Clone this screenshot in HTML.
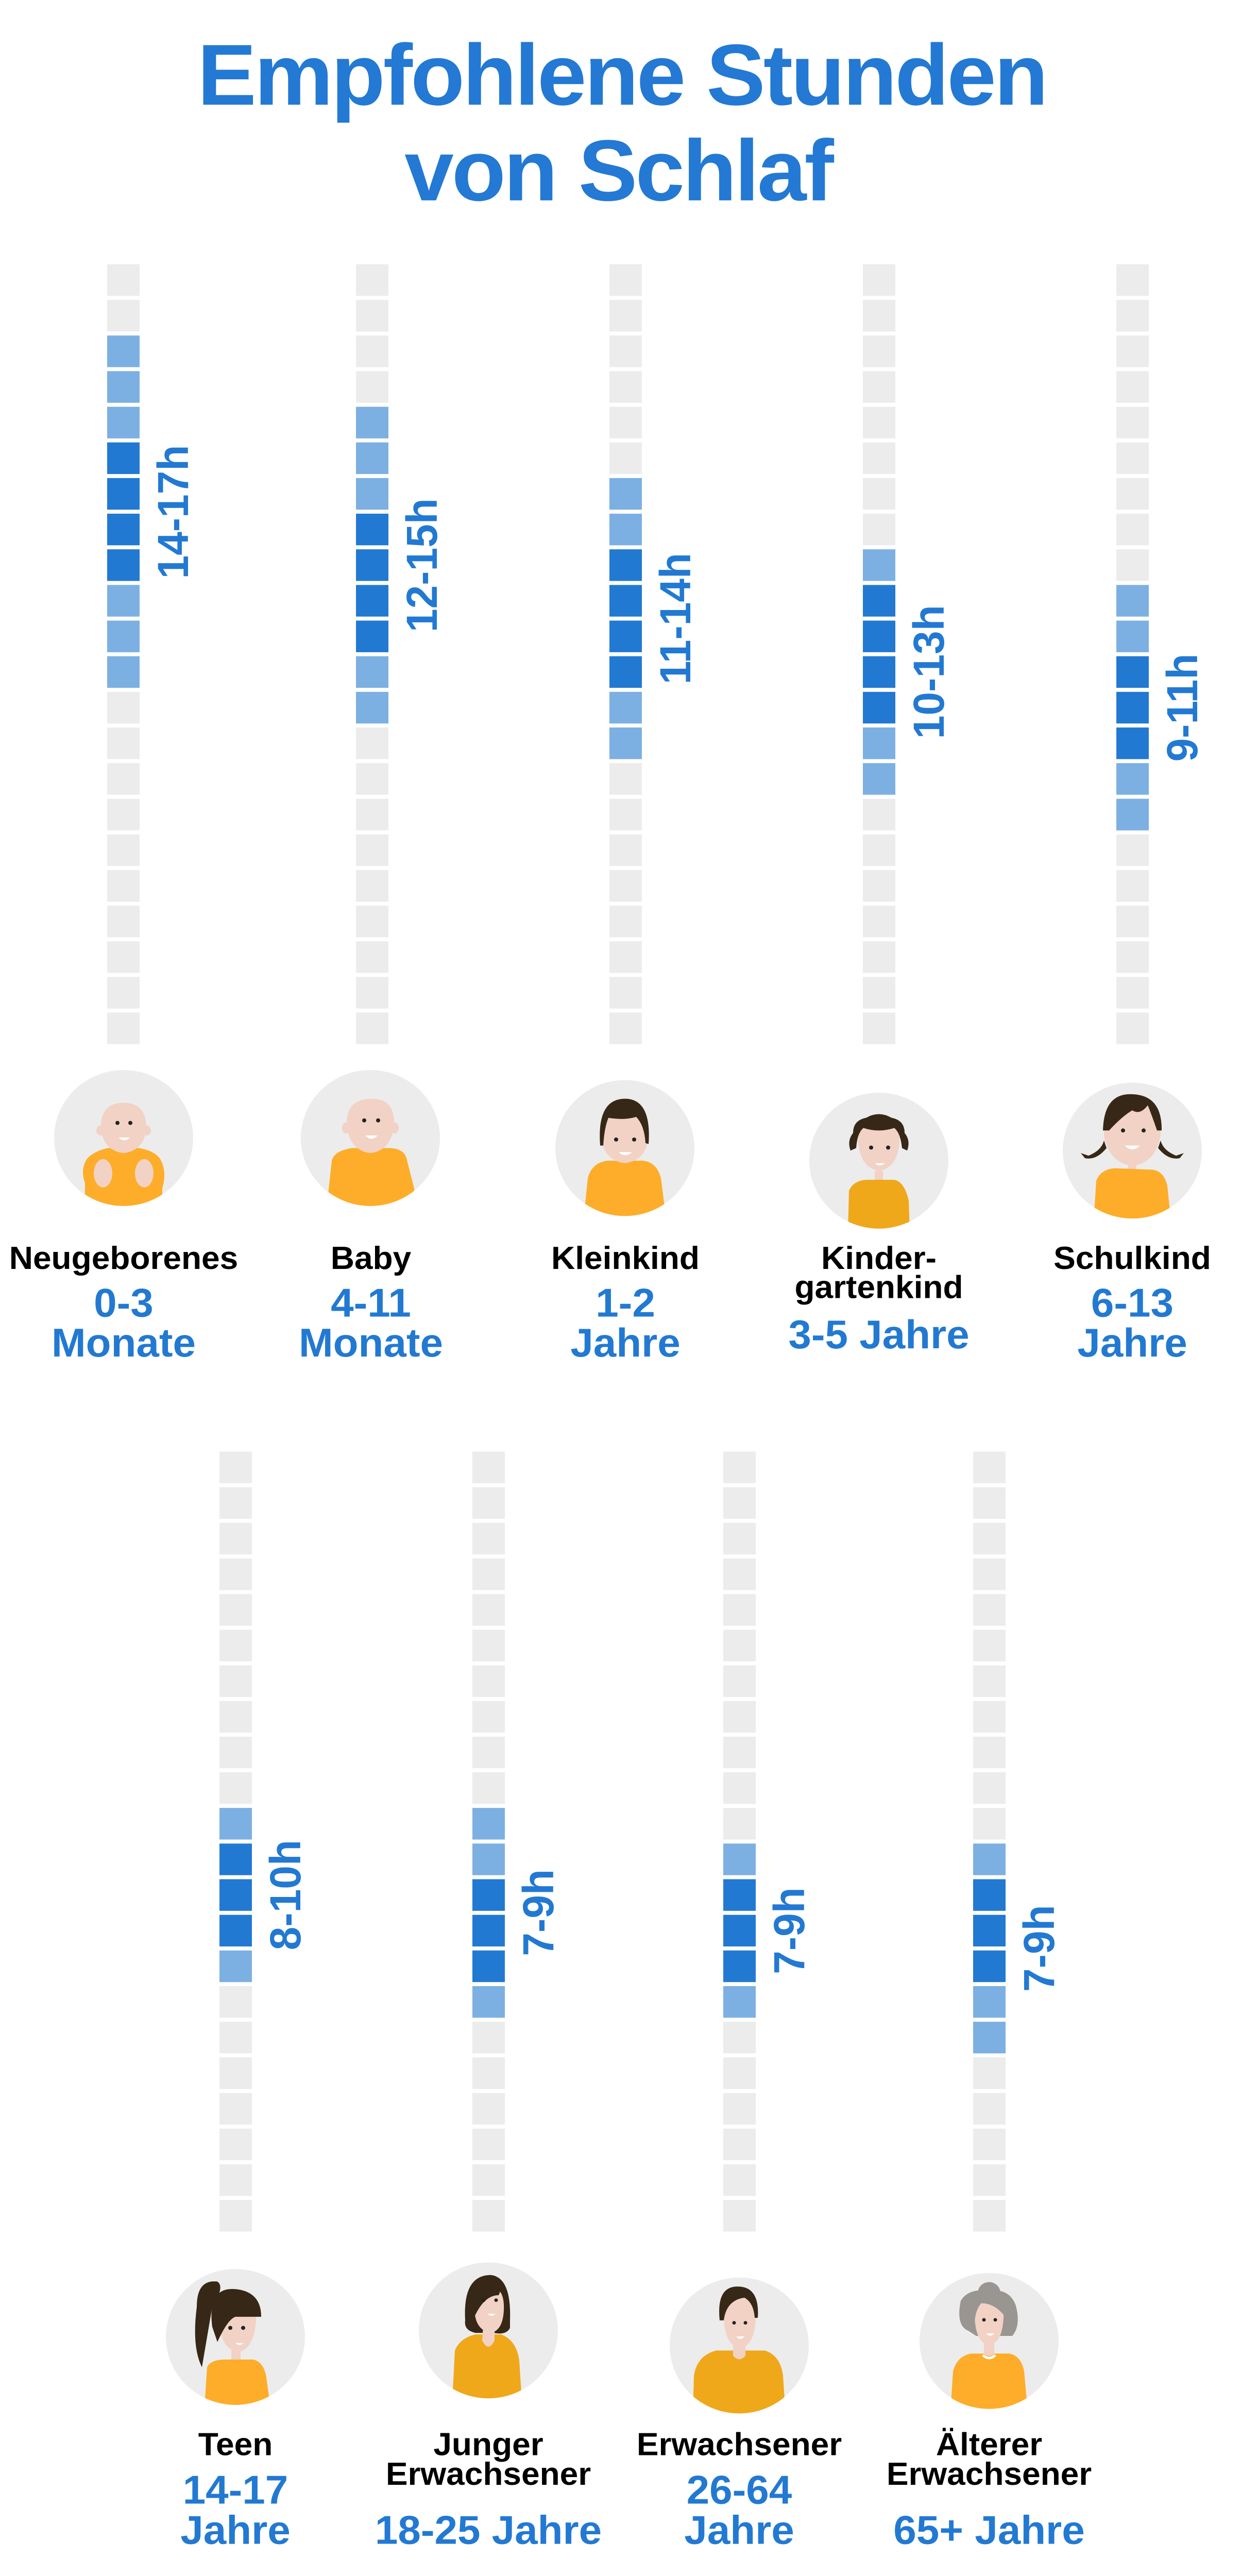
<!DOCTYPE html>
<html><head><meta charset="utf-8">
<style>
html,body{margin:0;padding:0;background:#fff;width:100%;height:100%;overflow:hidden;}
svg{display:block;position:fixed;left:0;top:0;width:100vw;height:100vh;}
text{font-family:"Liberation Sans",Arial,sans-serif;font-weight:bold;}
</style></head>
<body>
<svg viewBox="0 0 2409 5118" preserveAspectRatio="none" xmlns="http://www.w3.org/2000/svg">
<defs>
<pattern id="p1" x="0" y="525" width="10" height="70.8" patternUnits="userSpaceOnUse"><rect x="0" y="0" width="10" height="62.8" fill="#ececec"/></pattern>
<pattern id="p2" x="0" y="2884" width="10" height="70.8" patternUnits="userSpaceOnUse"><rect x="0" y="0" width="10" height="62.8" fill="#ececec"/></pattern>
<clipPath id="cc" clipPathUnits="userSpaceOnUse"><circle cx="0" cy="0" r="135"/></clipPath>
</defs>
<rect width="2409" height="5118" fill="#fff"/>

<text x="1207" y="208" font-size="172" fill="#2379d3" text-anchor="middle" letter-spacing="-4">Empfohlene Stunden</text>
<text x="1200" y="398" font-size="172" fill="#2379d3" text-anchor="middle" letter-spacing="-4">von Schlaf</text>

<g fill="url(#p1)">
<rect x="208" y="525" width="63" height="1550"/>
<rect x="691" y="525" width="63" height="1550"/>
<rect x="1183" y="525" width="63" height="1550"/>
<rect x="1675" y="525" width="63" height="1550"/>
<rect x="2167" y="525" width="63" height="1550"/>
</g>
<g fill="url(#p2)">
<rect x="426" y="2884" width="63" height="1550"/>
<rect x="917" y="2884" width="63" height="1550"/>
<rect x="1404" y="2884" width="63" height="1550"/>
<rect x="1889" y="2884" width="63" height="1550"/>
</g>

<g fill="#7cb0e2">
<rect x="208" y="666.6" width="63" height="62.8"/><rect x="208" y="737.4" width="63" height="62.8"/><rect x="208" y="808.2" width="63" height="62.8"/>
<rect x="208" y="1162.2" width="63" height="62.8"/><rect x="208" y="1233" width="63" height="62.8"/><rect x="208" y="1303.8" width="63" height="62.8"/>
<rect x="691" y="808.2" width="63" height="62.8"/><rect x="691" y="879" width="63" height="62.8"/><rect x="691" y="949.8" width="63" height="62.8"/>
<rect x="691" y="1303.8" width="63" height="62.8"/><rect x="691" y="1374.6" width="63" height="62.8"/>
<rect x="1183" y="949.8" width="63" height="62.8"/><rect x="1183" y="1020.6" width="63" height="62.8"/>
<rect x="1183" y="1374.6" width="63" height="62.8"/><rect x="1183" y="1445.4" width="63" height="62.8"/>
<rect x="1675" y="1091.4" width="63" height="62.8"/>
<rect x="1675" y="1445.4" width="63" height="62.8"/><rect x="1675" y="1516.2" width="63" height="62.8"/>
<rect x="2167" y="1162.2" width="63" height="62.8"/><rect x="2167" y="1233" width="63" height="62.8"/>
<rect x="2167" y="1516.2" width="63" height="62.8"/><rect x="2167" y="1587" width="63" height="62.8"/>
<rect x="426" y="3592" width="63" height="62.8"/><rect x="426" y="3875.2" width="63" height="62.8"/>
<rect x="917" y="3592" width="63" height="62.8"/><rect x="917" y="3662.8" width="63" height="62.8"/><rect x="917" y="3946" width="63" height="62.8"/>
<rect x="1404" y="3662.8" width="63" height="62.8"/><rect x="1404" y="3946" width="63" height="62.8"/>
<rect x="1889" y="3662.8" width="63" height="62.8"/><rect x="1889" y="3946" width="63" height="62.8"/><rect x="1889" y="4016.8" width="63" height="62.8"/>
</g>
<g fill="#2279d2">
<rect x="208" y="879" width="63" height="62.8"/><rect x="208" y="949.8" width="63" height="62.8"/><rect x="208" y="1020.6" width="63" height="62.8"/><rect x="208" y="1091.4" width="63" height="62.8"/>
<rect x="691" y="1020.6" width="63" height="62.8"/><rect x="691" y="1091.4" width="63" height="62.8"/><rect x="691" y="1162.2" width="63" height="62.8"/><rect x="691" y="1233" width="63" height="62.8"/>
<rect x="1183" y="1091.4" width="63" height="62.8"/><rect x="1183" y="1162.2" width="63" height="62.8"/><rect x="1183" y="1233" width="63" height="62.8"/><rect x="1183" y="1303.8" width="63" height="62.8"/>
<rect x="1675" y="1162.2" width="63" height="62.8"/><rect x="1675" y="1233" width="63" height="62.8"/><rect x="1675" y="1303.8" width="63" height="62.8"/><rect x="1675" y="1374.6" width="63" height="62.8"/>
<rect x="2167" y="1303.8" width="63" height="62.8"/><rect x="2167" y="1374.6" width="63" height="62.8"/><rect x="2167" y="1445.4" width="63" height="62.8"/>
<rect x="426" y="3662.8" width="63" height="62.8"/><rect x="426" y="3733.6" width="63" height="62.8"/><rect x="426" y="3804.4" width="63" height="62.8"/>
<rect x="917" y="3733.6" width="63" height="62.8"/><rect x="917" y="3804.4" width="63" height="62.8"/><rect x="917" y="3875.2" width="63" height="62.8"/>
<rect x="1404" y="3733.6" width="63" height="62.8"/><rect x="1404" y="3804.4" width="63" height="62.8"/><rect x="1404" y="3875.2" width="63" height="62.8"/>
<rect x="1889" y="3733.6" width="63" height="62.8"/><rect x="1889" y="3804.4" width="63" height="62.8"/><rect x="1889" y="3875.2" width="63" height="62.8"/>
</g>

<g font-size="84" fill="#2279d2" text-anchor="middle">
<text transform="translate(365,1017) rotate(-90)">14-17h</text>
<text transform="translate(848,1123) rotate(-90)">12-15h</text>
<text transform="translate(1340,1229) rotate(-90)">11-14h</text>
<text transform="translate(1832,1335) rotate(-90)">10-13h</text>
<text transform="translate(2324,1406) rotate(-90)">9-11h</text>
<text transform="translate(583,3765) rotate(-90)">8-10h</text>
<text transform="translate(1074,3800) rotate(-90)">7-9h</text>
<text transform="translate(1561,3836) rotate(-90)">7-9h</text>
<text transform="translate(2046,3871) rotate(-90)">7-9h</text>
</g>

<g transform="translate(240,2261)"><circle r="135" fill="#ececec"/><g clip-path="url(#cc)">
<path d="M-75,140 L-75,90 Q-85,60 -70,40 Q-55,25 -30,20 L30,20 Q58,25 70,40 Q85,65 75,100 L75,140 Z" fill="#fdad29"/>
<ellipse cx="-40" cy="70" rx="18" ry="28" fill="#f1d2c4"/><ellipse cx="40" cy="70" rx="18" ry="28" fill="#f1d2c4"/>
<ellipse cx="-45" cy="-15" rx="8" ry="10" fill="#f1d2c4"/><ellipse cx="45" cy="-15" rx="8" ry="10" fill="#f1d2c4"/>
<path d="M-44,-20 Q-45,-70 0,-70 Q44,-70 44,-20 Q40,25 0,30 Q-40,25 -44,-20 Z" fill="#f1d2c4"/>
<circle cx="-12" cy="-30" r="4" fill="#222"/><circle cx="13" cy="-30" r="4" fill="#222"/>
<path d="M-10,-1 Q2,10 12,-1 Z" fill="#fff"/></g></g>
<g transform="translate(719,2261)"><circle r="135" fill="#ececec"/><g clip-path="url(#cc)">
<path d="M-85,140 L-75,45 Q-70,25 -35,20 L40,20 Q65,22 70,40 L85,100 L85,140 Z" fill="#fdad29"/>
<ellipse cx="-47" cy="-20" rx="8" ry="11" fill="#f1d2c4"/><ellipse cx="47" cy="-20" rx="8" ry="11" fill="#f1d2c4"/>
<path d="M-46,-25 Q-48,-78 3,-78 Q48,-78 46,-25 Q40,25 0,30 Q-40,25 -46,-25 Z" fill="#f1d2c4"/>
<circle cx="-12" cy="-35" r="4" fill="#222"/><circle cx="15" cy="-35" r="4" fill="#222"/>
<path d="M-10,-5 Q2,8 14,-5 Z" fill="#fff"/></g></g>
<g transform="translate(1213,2281)"><circle r="135" fill="#ececec"/><g clip-path="url(#cc)">
<path d="M-80,140 L-72,60 Q-65,30 -35,25 L35,25 Q62,28 70,60 L80,140 Z" fill="#fdad29"/>
<path d="M-46,-20 Q-48,-70 0,-72 Q46,-70 46,-20 Q40,25 0,30 Q-40,25 -46,-20 Z" fill="#f1d2c4"/>
<path d="M-48,-5 Q-55,-100 3,-98 Q52,-95 46,-8 L40,-10 Q38,-45 22,-62 Q0,-55 -32,-60 Q-40,-40 -42,-5 Z" fill="#372716"/>
<circle cx="-17" cy="-17" r="4" fill="#222"/><circle cx="18" cy="-17" r="4" fill="#222"/>
<path d="M-12,8 Q0,20 14,8 Z" fill="#fff"/></g></g>
<g transform="translate(1706,2306)"><circle r="135" fill="#ececec"/><g clip-path="url(#cc)">
<rect x="-8" y="20" width="16" height="30" fill="#f1d2c4"/>
<path d="M-60,140 L-58,60 Q-50,40 -25,38 L30,38 Q50,42 58,80 L60,140 Z" fill="#efa81a"/>
<path d="M-40,-35 Q-42,-75 0,-75 Q42,-75 40,-35 Q35,15 0,20 Q-35,15 -40,-35 Z" fill="#f1d2c4"/>
<path d="M-55,-20 Q-62,-40 -50,-55 Q-50,-80 -25,-85 Q0,-100 25,-85 Q50,-80 50,-55 Q62,-40 55,-20 L45,-25 Q42,-55 30,-65 Q0,-55 -30,-65 Q-42,-55 -44,-25 Z" fill="#372716"/>
<circle cx="-15" cy="-26" r="4" fill="#222"/><circle cx="18" cy="-26" r="4" fill="#222"/>
<path d="M-8,5 Q2,14 12,5 Z" fill="#fff"/></g></g>
<g transform="translate(2198,2286)"><circle r="135" fill="#ececec"/><g clip-path="url(#cc)">
<rect x="-8" y="20" width="16" height="30" fill="#f1d2c4"/>
<path d="M-75,140 L-70,60 Q-62,38 -35,35 L40,38 Q62,42 68,70 L75,140 Z" fill="#fdad29"/>
<path d="M-55,-30 Q-55,-100 0,-100 Q55,-100 55,-30 Q45,25 0,30 Q-45,25 -55,-30 Z" fill="#f1d2c4"/>
<path d="M-57,-40 Q-55,-115 0,-112 Q58,-110 57,-40 L48,-40 Q38,-70 30,-90 Q15,-70 0,-80 Q-20,-68 -45,-40 Z" fill="#372716"/>
<path d="M-55,-20 Q-60,0 -85,10 L-100,5 L-92,15 Q-70,20 -50,-5 Z" fill="#372716"/>
<path d="M55,-20 Q60,0 85,10 L100,5 L92,15 Q70,20 50,-5 Z" fill="#372716"/>
<circle cx="-18" cy="-40" r="4" fill="#222"/><circle cx="22" cy="-40" r="4" fill="#222"/>
<path d="M-15,-10 Q0,5 15,-10 Z" fill="#fff"/></g></g>
<g transform="translate(457,4643)"><circle r="135" fill="#ececec"/><g clip-path="url(#cc)">
<path d="M-75,-60 Q-75,-115 -35,-110 Q-20,-100 -45,-60 L-65,60 Q-85,20 -75,-60 Z" fill="#372716"/>
<rect x="-8" y="20" width="18" height="35" fill="#f1d2c4"/>
<path d="M-60,140 L-55,60 Q-48,45 -20,45 L35,45 Q55,50 60,80 L68,140 Z" fill="#fdad29"/>
<path d="M-32,-30 Q-35,-75 5,-75 Q40,-75 40,-30 Q35,25 5,30 Q-28,25 -32,-30 Z" fill="#f1d2c4"/>
<path d="M-45,-20 Q-55,-100 0,-95 Q50,-90 50,-40 L0,-40 Q-15,-35 -35,10 Z" fill="#372716"/>
<circle cx="-10" cy="-18" r="4" fill="#222"/><circle cx="15" cy="-18" r="4" fill="#222"/>
<path d="M0,12 Q8,20 16,12 Z" fill="#fff"/></g></g>
<g transform="translate(948,4630)"><circle r="135" fill="#ececec"/><g clip-path="url(#cc)">
<path d="M-45,-20 Q-50,-110 5,-110 Q45,-105 42,-20 L42,-5 Q35,10 10,5 L-25,5 Q-48,0 -45,-20 Z" fill="#372716"/>
<path d="M-70,140 L-65,40 Q-55,15 -25,8 L25,8 Q55,20 60,60 L65,140 Z" fill="#efa81a"/>
<path d="M-10,-10 L-12,20 Q0,45 12,20 L12,-10 Z" fill="#f1d2c4"/>
<path d="M-27,-40 Q-30,-85 5,-85 Q32,-85 30,-40 Q28,0 5,5 Q-25,0 -27,-40 Z" fill="#f1d2c4"/>
<path d="M-35,-40 Q-30,-95 5,-95 Q30,-90 20,-70 Q-10,-70 -30,-20 Z" fill="#372716"/>
<circle cx="-9" cy="-60" r="3.5" fill="#222"/><circle cx="15" cy="-60" r="3.5" fill="#222"/>
<path d="M-2,-33 Q6,-25 14,-33 Z" fill="#fff"/></g></g>
<g transform="translate(1435,4660)"><circle r="135" fill="#ececec"/><g clip-path="url(#cc)">
<path d="M-90,140 L-88,60 Q-82,20 -45,10 L50,10 Q80,20 85,60 L90,140 Z" fill="#efa81a"/>
<path d="M-12,-5 L-12,20 Q0,35 12,20 L12,-5 Z" fill="#f1d2c4"/>
<path d="M-30,-55 Q-32,-95 2,-95 Q35,-95 32,-55 Q30,0 2,5 Q-28,0 -30,-55 Z" fill="#f1d2c4"/>
<path d="M-38,-50 Q-45,-120 0,-117 Q40,-115 36,-55 L30,-55 Q28,-85 10,-95 Q-25,-90 -30,-50 Z" fill="#372716"/>
<circle cx="-10" cy="-45" r="3.5" fill="#222"/><circle cx="12" cy="-45" r="3.5" fill="#222"/>
<path d="M-6,-18 Q2,-8 10,-18 Z" fill="#fff"/></g></g>
<g transform="translate(1920,4651)"><circle r="135" fill="#ececec"/><g clip-path="url(#cc)">
<circle cx="0" cy="-95" r="22" fill="#999590"/>
<path d="M-40,-20 Q-65,-30 -55,-80 Q-40,-105 0,-100 Q40,-105 52,-70 Q62,-30 45,-10 L30,-10 L-25,-10 Z" fill="#999590"/>
<path d="M-75,140 L-70,60 Q-62,30 -35,25 L40,25 Q62,30 68,60 L75,140 Z" fill="#fdad29"/>
<path d="M-10,0 L-10,25 Q0,35 10,25 L10,0 Z" fill="#f1d2c4"/>
<path d="M-28,-45 Q-30,-80 0,-80 Q30,-80 28,-45 Q25,5 0,8 Q-25,5 -28,-45 Z" fill="#f1d2c4"/>
<path d="M-32,-40 Q-38,-95 0,-90 Q35,-90 30,-50 Q10,-75 -15,-75 Q-25,-65 -28,-40 Z" fill="#999590"/>
<path d="M-12,28 Q0,40 12,28" stroke="#fff" stroke-width="5" fill="none"/>
<circle cx="-10" cy="-42" r="3.5" fill="#222"/><circle cx="12" cy="-42" r="3.5" fill="#222"/>
<path d="M-6,-15 Q2,-6 10,-15 Z" fill="#fff"/></g></g>

<g text-anchor="middle">
<g font-size="64" fill="#000">
<text x="240" y="2521">Neugeborenes</text>
<text x="720" y="2521">Baby</text>
<text x="1214" y="2521">Kleinkind</text>
<text x="1706" y="2521">Kinder-</text>
<text x="1706" y="2579">gartenkind</text>
<text x="2198" y="2521">Schulkind</text>
<text x="457" y="4878">Teen</text>
<text x="948" y="4878">Junger</text>
<text x="948" y="4937">Erwachsener</text>
<text x="1435" y="4878">Erwachsener</text>
<text x="1920" y="4878">Älterer</text>
<text x="1920" y="4937">Erwachsener</text>
</g>
<g font-size="80" fill="#2279d2">
<text x="240" y="2616">0-3</text>
<text x="240" y="2695">Monate</text>
<text x="720" y="2616">4-11</text>
<text x="720" y="2695">Monate</text>
<text x="1214" y="2616">1-2</text>
<text x="1214" y="2695">Jahre</text>
<text x="1706" y="2679">3-5 Jahre</text>
<text x="2198" y="2616">6-13</text>
<text x="2198" y="2695">Jahre</text>
<text x="457" y="4974">14-17</text>
<text x="457" y="5054">Jahre</text>
<text x="948" y="5054">18-25 Jahre</text>
<text x="1435" y="4974">26-64</text>
<text x="1435" y="5054">Jahre</text>
<text x="1920" y="5054">65+ Jahre</text>
</g>
</g>
</svg>
</body></html>
